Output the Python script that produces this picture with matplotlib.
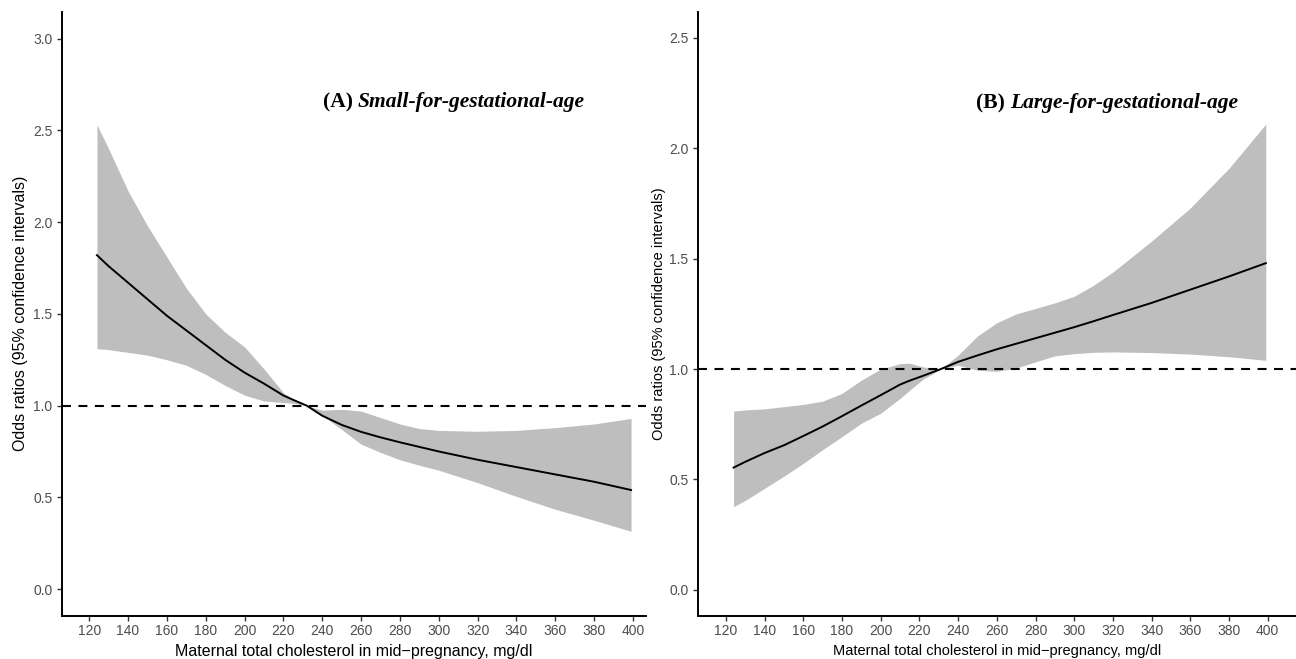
import matplotlib
matplotlib.use('Agg')
import matplotlib.pyplot as plt

# (A) small-for-gestational-age
sga_x = [124, 130, 140, 150, 160, 170, 180, 190, 200, 210, 220, 226, 232,
         240, 250, 260, 270, 280, 290, 300, 320, 340, 360, 380, 399]
sga_or = [1.82, 1.76, 1.67, 1.58, 1.49, 1.41, 1.33, 1.25, 1.18, 1.12, 1.055, 1.027, 1.00,
          0.945, 0.895, 0.857, 0.827, 0.80, 0.775, 0.75, 0.705, 0.665, 0.625, 0.585, 0.54]
sga_upper = [2.53, 2.40, 2.17, 1.98, 1.81, 1.64, 1.50, 1.40, 1.32, 1.20, 1.07, 1.03, 1.00,
             0.975, 0.98, 0.97, 0.935, 0.90, 0.875, 0.865, 0.86, 0.865, 0.88, 0.90, 0.93]
sga_lower = [1.31, 1.305, 1.29, 1.275, 1.25, 1.22, 1.17, 1.11, 1.057, 1.025, 1.017, 1.012, 1.00,
             0.947, 0.87, 0.79, 0.745, 0.705, 0.675, 0.648, 0.58, 0.505, 0.435, 0.375, 0.315]

# (B) large-for-gestational-age
lga_x = [124, 130, 140, 150, 160, 170, 180, 190, 200, 210, 215, 222, 231,
         240, 250, 260, 270, 280, 290, 300, 310, 320, 340, 360, 380, 399]
lga_or = [0.554, 0.58, 0.62, 0.655, 0.697, 0.74, 0.787, 0.835, 0.882, 0.93, 0.948, 0.97, 1.00,
          1.033, 1.062, 1.09, 1.115, 1.14, 1.165, 1.19, 1.217, 1.245, 1.30, 1.36, 1.42, 1.48]
lga_upper = [0.81, 0.815, 0.82, 0.83, 0.84, 0.855, 0.89, 0.95, 1.00, 1.025, 1.027, 1.01, 1.00,
             1.063, 1.15, 1.21, 1.25, 1.275, 1.30, 1.33, 1.38, 1.44, 1.58, 1.73, 1.91, 2.11]
lga_lower = [0.377, 0.405, 0.46, 0.515, 0.573, 0.635, 0.694, 0.755, 0.80, 0.867, 0.905, 0.955, 1.00,
             1.018, 0.995, 0.99, 1.005, 1.033, 1.06, 1.07, 1.076, 1.078, 1.075, 1.068, 1.056, 1.04]

x_ticks = list(range(120, 401, 20))
sga_y_ticks = [0.0, 0.5, 1.0, 1.5, 2.0, 2.5, 3.0]
lga_y_ticks = [0.0, 0.5, 1.0, 1.5, 2.0, 2.5]

X_LABEL = 'Maternal total cholesterol in mid\u2212pregnancy, mg/dl'
Y_LABEL = 'Odds ratios (95% confidence intervals)'

W, H = 1296, 659


def px_rect(left, top, right, bottom):
    return [left / W, 1 - bottom / H, (right - left) / W, (bottom - top) / H]


def plot_panel(ax, x, est, lo, hi, y_ticks, xlim, ylim, label_size, ylab_x):
    ax.fill_between(x, lo, hi, color='#BEBEBE', linewidth=0)
    ax.plot(x, est, color='black', lw=1.4)
    ax.axhline(1.0, color='black', lw=1.5, dashes=(4.3, 3.6))

    ax.set_xlim(*xlim)
    ax.set_ylim(*ylim)
    ax.set_xticks(x_ticks)
    ax.set_yticks(y_ticks)
    ax.set_yticklabels([f'{v:.1f}' for v in y_ticks])

    for side in ('top', 'right'):
        ax.spines[side].set_visible(False)
    for side in ('left', 'bottom'):
        ax.spines[side].set_linewidth(1.4)
    ax.tick_params(length=3.8, width=1.0, color='#333333', labelcolor='#4D4D4D',
                   labelsize=10, direction='out')
    ax.tick_params(axis='x', pad=2.0)
    ax.tick_params(axis='y', pad=3.0)

    ax.set_xlabel(X_LABEL, fontsize=label_size, color='black')
    ax.set_ylabel(Y_LABEL, fontsize=label_size, color='black')
    ax.xaxis.set_label_coords(0.5, -0.047)
    ax.yaxis.set_label_coords(ylab_x, 0.5)


def panel_title(x_tag, x_text, y, tag, text):
    kw = dict(family='Liberation Serif', fontsize=15.5, weight='bold', va='center', ha='left')
    plt.figtext(x_tag / W, 1 - y / H, tag, **kw)
    plt.figtext(x_text / W, 1 - y / H, text, style='italic', **kw)


if __name__ == '__main__':
    plt.rcParams['font.family'] = ['Liberation Sans', 'DejaVu Sans']

    fig = plt.figure(figsize=(W / 100, H / 100), dpi=100)

    ax_a = fig.add_axes(px_rect(62, 11.5, 646, 615.7))
    plot_panel(ax_a, sga_x, sga_or, sga_lower, sga_upper, sga_y_ticks,
               (106.0, 406.7), (-0.145, 3.148), 11.5, -0.058)

    ax_b = fig.add_axes(px_rect(698, 11.5, 1296, 615.7))
    plot_panel(ax_b, lga_x, lga_or, lga_lower, lga_upper, lga_y_ticks,
               (105.6, 414.6), (-0.117, 2.62), 10.5, -0.0535)

    panel_title(322.7, 357.3, 102, '(A)', 'Small-for-gestational-age')
    panel_title(976, 1010, 103, '(B)', 'Large-for-gestational-age')

    fig.savefig('out.png', dpi=100)
